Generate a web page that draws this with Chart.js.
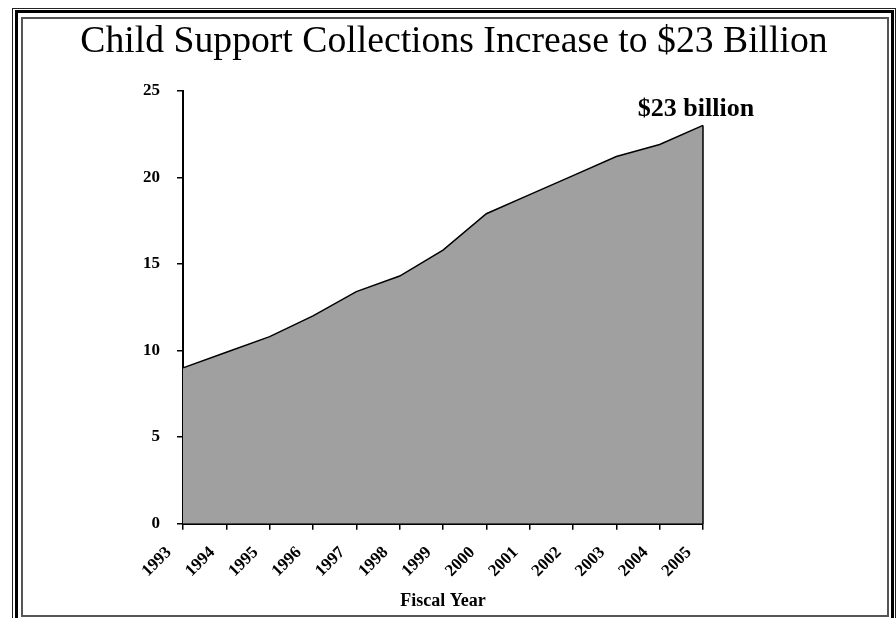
<!DOCTYPE html>
<html>
<head>
<meta charset="utf-8">
<script src="https://cdn.jsdelivr.net/npm/chart.js@4.4.1/dist/chart.umd.min.js"></script>
<style>
  html, body { margin: 0; padding: 0; background: #fff; overflow: hidden; }
  #wrap { position: relative; width: 896px; height: 618px; overflow: hidden; background: #fff; }
  canvas { position: absolute; left: 0; top: 0; }
  .frame { position: absolute; box-sizing: border-box; pointer-events: none; }
  #f1 { left: 12px; top: 8px; width: 884px; height: 700px; border: 1px solid #222; }
  #f2 { left: 15px; top: 10px; width: 879px; height: 700px; border: 3px solid #000; }
  #f3 { left: 21px; top: 17px; width: 868px; height: 600px; border: 2px solid #555; }
</style>
</head>
<body>
<div id="wrap">
  <canvas id="c" width="896" height="618"></canvas>
  <div class="frame" id="f1"></div>
  <div class="frame" id="f2"></div>
  <div class="frame" id="f3"></div>
</div>
<script>
const chartTitle = 'Child Support Collections Increase to $23 Billion';
const fiscalYears = ['1993','1994','1995','1996','1997','1998','1999','2000','2001','2002','2003','2004','2005'];
const collectionsBillions = [9.0, 9.9, 10.8, 12.0, 13.4, 14.3, 15.8, 17.9, 19.0, 20.1, 21.2, 21.9, 23.0];
const yAxisMin = 0;
const yAxisMax = 25;
const yAxisStep = 5;
const xAxisTitle = 'Fiscal Year';
const endLabel = '$23 billion';

const serif = "'Liberation Serif', 'Times New Roman', serif";

const endLabelPlugin = {
  id: 'endLabel',
  afterDatasetsDraw(chart) {
    const meta = chart.getDatasetMeta(0);
    const last = meta.data[meta.data.length - 1];
    const y0 = chart.scales.y.getPixelForValue(yAxisMin);
    const ctx = chart.ctx;
    ctx.save();
    // closing edge of the area at the last category
    ctx.strokeStyle = '#000';
    ctx.lineWidth = 1.5;
    ctx.beginPath();
    ctx.moveTo(last.x, last.y);
    ctx.lineTo(last.x, y0);
    ctx.stroke();
    // value label
    ctx.fillStyle = '#000';
    ctx.font = "bold 26px " + serif;
    ctx.textAlign = 'center';
    ctx.textBaseline = 'alphabetic';
    ctx.fillText(endLabel, last.x - 7, last.y - 9);
    ctx.restore();
  }
};

new Chart(document.getElementById('c'), {
  type: 'line',
  data: {
    labels: fiscalYears,
    datasets: [{
      data: collectionsBillions,
      yAxisID: 'y',
      fill: 'origin',
      backgroundColor: '#a0a0a0',
      borderColor: '#000',
      borderWidth: 1.5,
      pointRadius: 0,
      tension: 0
    }]
  },
  options: {
    responsive: false,
    animation: false,
    devicePixelRatio: 1,
    layout: { padding: { left: 12, right: 0, top: 0, bottom: 0 } },
    plugins: {
      legend: { display: false },
      tooltip: { enabled: false },
      title: {
        display: true,
        text: chartTitle,
        color: '#000',
        font: { family: serif, size: 37.7, weight: 'normal' },
        padding: { top: 19.5, bottom: 26 }
      }
    },
    scales: {
      x: {
        type: 'category',
        offset: false,
        afterFit(s) { s.height = 94.3; },
        grid: { display: true, drawOnChartArea: false, drawTicks: true, tickLength: 6, color: '#000', lineWidth: 1.5 },
        border: { display: true, color: '#000', width: 2 },
        ticks: {
          autoSkip: false, maxRotation: 45, minRotation: 45,
          color: '#000', padding: 13, labelOffset: -14,
          font: { family: serif, size: 17, weight: 'bold' }
        },
        title: {
          display: true, text: xAxisTitle, color: '#000',
          font: { family: serif, size: 18, weight: 'bold' },
          padding: { top: 0, bottom: 6 }
        }
      },
      y: {
        position: 'left',
        min: yAxisMin, max: yAxisMax,
        afterFit(s) { s.width = 171; },
        grid: { display: true, drawOnChartArea: false, drawTicks: true, tickLength: 6, color: '#000', lineWidth: 1.5 },
        border: { display: true, color: '#000', width: 2 },
        ticks: {
          stepSize: yAxisStep, color: '#000', padding: 17,
          font: { family: serif, size: 17, weight: 'bold' }
        }
      },
      rightSpace: {
        type: 'linear',
        position: 'right',
        min: yAxisMin, max: yAxisMax,
        afterFit(s) { s.width = 193; },
        grid: { display: false },
        border: { display: false },
        ticks: { display: false }
      }
    }
  },
  plugins: [endLabelPlugin]
});
</script>
</body>
</html>
